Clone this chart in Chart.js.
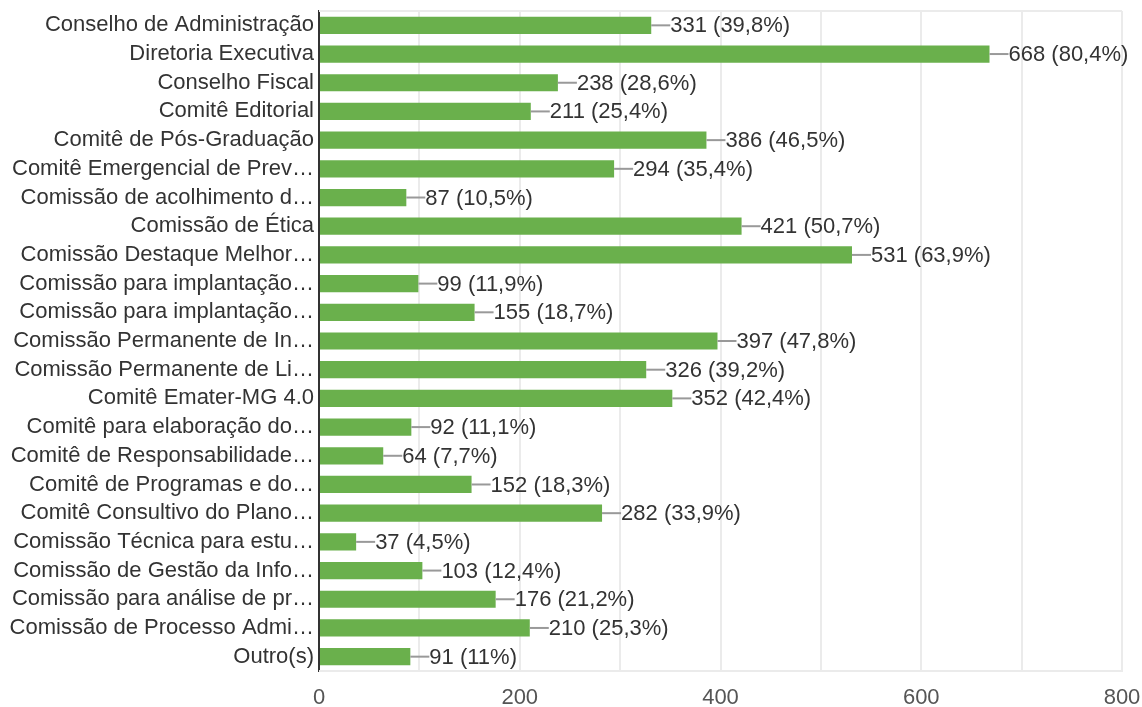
<!DOCTYPE html>
<html>
<head>
<meta charset="utf-8">
<script src="https://cdn.jsdelivr.net/npm/chart.js@4/dist/chart.umd.min.js"></script>
<style>
html,body{margin:0;padding:0;background:#fff;}
#wrap{width:1142px;height:707px;position:relative;}
</style>
</head>
<body>
<div id="wrap"><canvas id="c" width="1142" height="707"></canvas></div>
<script>
const categories = [
  "Conselho de Administração",
  "Diretoria Executiva",
  "Conselho Fiscal",
  "Comitê Editorial",
  "Comitê de Pós-Graduação",
  "Comitê Emergencial de Prev…",
  "Comissão de acolhimento d…",
  "Comissão de Ética",
  "Comissão Destaque Melhor…",
  "Comissão para implantação…",
  "Comissão para implantação…",
  "Comissão Permanente de In…",
  "Comissão Permanente de Li…",
  "Comitê Emater-MG 4.0",
  "Comitê para elaboração do…",
  "Comitê de Responsabilidade…",
  "Comitê de Programas e do…",
  "Comitê Consultivo do Plano…",
  "Comissão Técnica para estu…",
  "Comissão de Gestão da Info…",
  "Comissão para análise de pr…",
  "Comissão de Processo Admi…",
  "Outro(s)"
];
const counts = [331, 668, 238, 211, 386, 294, 87, 421, 531, 99, 155, 397, 326, 352, 92, 64, 152, 282, 37, 103, 176, 210, 91];
const percents = ["39,8%", "80,4%", "28,6%", "25,4%", "46,5%", "35,4%", "10,5%", "50,7%", "63,9%", "11,9%", "18,7%", "47,8%", "39,2%", "42,4%", "11,1%", "7,7%", "18,3%", "33,9%", "4,5%", "12,4%", "21,2%", "25,3%", "11%"];
const xTicks = [0, 200, 400, 600, 800];

const FONT = "'Liberation Sans', Arial, sans-serif";

const labelPlugin = {
  id: 'valueLabels',
  beforeDatasetsDraw(chart) {
    const ctx = chart.ctx;
    const area = chart.chartArea;
    ctx.save();
    ctx.strokeStyle = '#ebebeb';
    ctx.lineWidth = 2;
    ctx.beginPath();
    ctx.moveTo(area.left, area.top);
    ctx.lineTo(area.right, area.top);
    ctx.moveTo(area.left, area.bottom);
    ctx.lineTo(area.right + 1, area.bottom);
    ctx.stroke();
    ctx.restore();
  },
  afterDatasetsDraw(chart) {
    const ctx = chart.ctx;
    const meta = chart.getDatasetMeta(0);
    ctx.save();
    ctx.font = "22px " + FONT;
    ctx.textBaseline = 'middle';
    ctx.textAlign = 'left';
    meta.data.forEach((bar, i) => {
      const x = bar.x, y = bar.y;
      ctx.strokeStyle = '#999999';
      ctx.lineWidth = 2;
      ctx.beginPath();
      ctx.moveTo(x, y);
      ctx.lineTo(x + 19, y);
      ctx.stroke();
      ctx.fillStyle = '#333333';
      ctx.fillText(counts[i] + " (" + percents[i] + ")", x + 19, y + 1);
    });
    ctx.restore();
  }
};

new Chart(document.getElementById('c'), {
  type: 'bar',
  data: {
    labels: categories,
    datasets: [{
      data: counts,
      backgroundColor: '#6ab04c',
      borderWidth: 0,
      categoryPercentage: 1.0,
      barPercentage: 0.6
    }]
  },
  options: {
    indexAxis: 'y',
    responsive: false,
    animation: false,
    devicePixelRatio: 1,
    layout: { padding: { top: 0, right: 0, left: 0, bottom: 0 } },
    plugins: { legend: { display: false }, tooltip: { enabled: false } },
    scales: {
      x: {
        min: 0, max: 800,
        ticks: {
          stepSize: 100,
          autoSkip: false,
          maxRotation: 0,
          color: '#555555',
          font: { size: 22, family: FONT },
          padding: 14,
          callback: (v) => xTicks.includes(v) ? String(v) : ''
        },
        grid: { color: '#ebebeb', lineWidth: 2, drawTicks: false },
        border: { display: false },
        afterFit: (s) => { s.height = 36; s.paddingRight = 20; s.paddingLeft = 0; }
      },
      y: {
        ticks: {
          autoSkip: false,
          color: '#333333',
          font: { size: 22, family: FONT },
          padding: 5
        },
        grid: { display: false, drawTicks: false },
        border: { display: true, color: '#333333', width: 2 },
        afterFit: (s) => { s.width = 319; s.paddingTop = 11; s.paddingBottom = 0; }
      }
    }
  },
  plugins: [labelPlugin]
});
</script>
</body>
</html>
